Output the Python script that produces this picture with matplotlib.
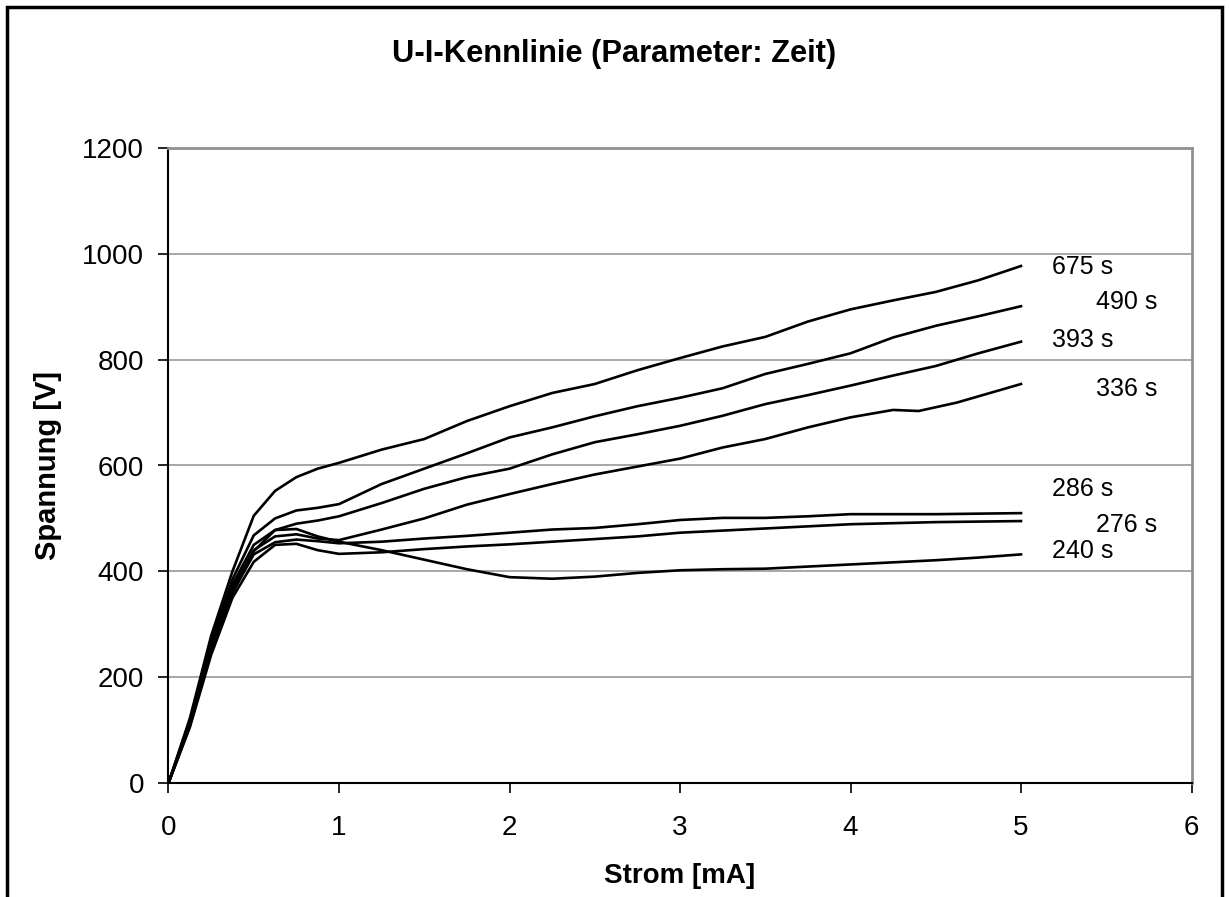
import matplotlib
matplotlib.use("Agg")
import matplotlib.pyplot as plt
from matplotlib.patches import Rectangle

plt.rcParams['font.family'] = ['Liberation Sans', 'DejaVu Sans']

title = "U-I-Kennlinie (Parameter: Zeit)"
x_label = "Strom [mA]"
y_label = "Spannung [V]"

x_common = [0, 0.125, 0.25, 0.375, 0.5, 0.625, 0.75, 0.875, 1.0, 1.25, 1.5, 1.75,
            2.0, 2.25, 2.5, 2.75, 3.0, 3.25, 3.5, 3.75, 4.0, 4.25, 4.5, 4.75, 5.0]
x_336 = [0, 0.125, 0.25, 0.375, 0.5, 0.625, 0.75, 0.875, 1.0, 1.25, 1.5, 1.75,
         2.0, 2.25, 2.5, 2.75, 3.0, 3.25, 3.5, 3.75, 4.0, 4.25, 4.4, 4.625, 5.0]

u_675 = [0, 122, 278, 400, 505, 552, 578, 594, 605, 630, 650, 684, 712, 737, 754,
         780, 803, 825, 843, 872, 895, 912, 928, 950, 977]
u_490 = [0, 118, 268, 385, 468, 500, 515, 520, 527, 565, 594, 623, 653, 672, 693,
         712, 728, 746, 773, 792, 812, 842, 864, 882, 901]
u_393 = [0, 115, 262, 375, 450, 478, 490, 496, 504, 529, 556, 578, 594, 621, 644,
         659, 675, 694, 716, 733, 751, 770, 788, 812, 834]
u_336 = [0, 112, 255, 368, 440, 466, 470, 462, 459, 479, 500, 526, 546, 565, 583,
         598, 613, 634, 650, 672, 691, 705, 703, 719, 754]
u_286 = [0, 110, 250, 360, 432, 455, 460, 457, 453, 456, 462, 467, 473, 479, 482,
         489, 497, 501, 501, 504, 508, 508, 508, 509, 510]
u_276 = [0, 105, 242, 350, 418, 450, 452, 440, 433, 436, 442, 447, 451, 456, 461,
         466, 473, 477, 481, 485, 489, 491, 493, 494, 495]
u_240 = [0, 108, 248, 358, 438, 478, 480, 466, 456, 440, 422, 404, 389, 386, 390,
         397, 402, 404, 405, 409, 413, 417, 421, 426, 432]

series = [
    ("675 s", x_common, u_675, (5.18, 975)),
    ("490 s", x_common, u_490, (5.44, 909)),
    ("393 s", x_common, u_393, (5.18, 837)),
    ("336 s", x_336, u_336, (5.44, 744)),
    ("286 s", x_common, u_286, (5.18, 555)),
    ("276 s", x_common, u_276, (5.44, 488)),
    ("240 s", x_common, u_240, (5.18, 439)),
]

x_ticks = [0, 1, 2, 3, 4, 5, 6]
y_ticks = [0, 200, 400, 600, 800, 1000, 1200]

fig = plt.figure(figsize=(12.29, 8.97), dpi=100)
ax = fig.add_axes([168.5 / 1229, 1 - 783 / 897, (1191.5 - 168.5) / 1229, (783 - 148) / 897])

for label, xs, ys, pos in series:
    ax.plot(xs, ys, color='black', lw=1.9, solid_joinstyle='round', zorder=3)
    ax.text(pos[0], pos[1], label, fontsize=18, ha='left', va='center', clip_on=False)

ax.set_xlim(0, 6)
ax.set_ylim(0, 1200)
ax.set_xticks(x_ticks)
ax.set_yticks(y_ticks)
ax.tick_params(axis='both', labelsize=20, direction='out', length=7.2, width=1.2, color='black')
ax.tick_params(axis='x', pad=16)
ax.tick_params(axis='y', pad=10.5)
ax.yaxis.grid(True, color='#a0a0a0', lw=1.3)
ax.set_axisbelow(True)

for s in ['left', 'bottom']:
    ax.spines[s].set_color('black')
    ax.spines[s].set_linewidth(1.5)
for s in ['top', 'right']:
    ax.spines[s].set_color('#909090')
    ax.spines[s].set_linewidth(2)

ax.set_xlabel(x_label, fontsize=20, fontweight='bold', labelpad=16)
ax.set_ylabel(y_label, fontsize=21, fontweight='bold', labelpad=14)
fig.text(0.5, 1 - 54 / 897, title, fontsize=22.2, fontweight='bold', ha='center', va='center')

frame = Rectangle((7 / 1229, -0.05), (1222 - 7) / 1229, 1 - 7 / 897 + 0.05,
                  transform=fig.transFigure, fill=False, edgecolor='black', lw=2.5, clip_on=False)
fig.patches.append(frame)

fig.savefig("out.png", dpi=100, facecolor='white')
